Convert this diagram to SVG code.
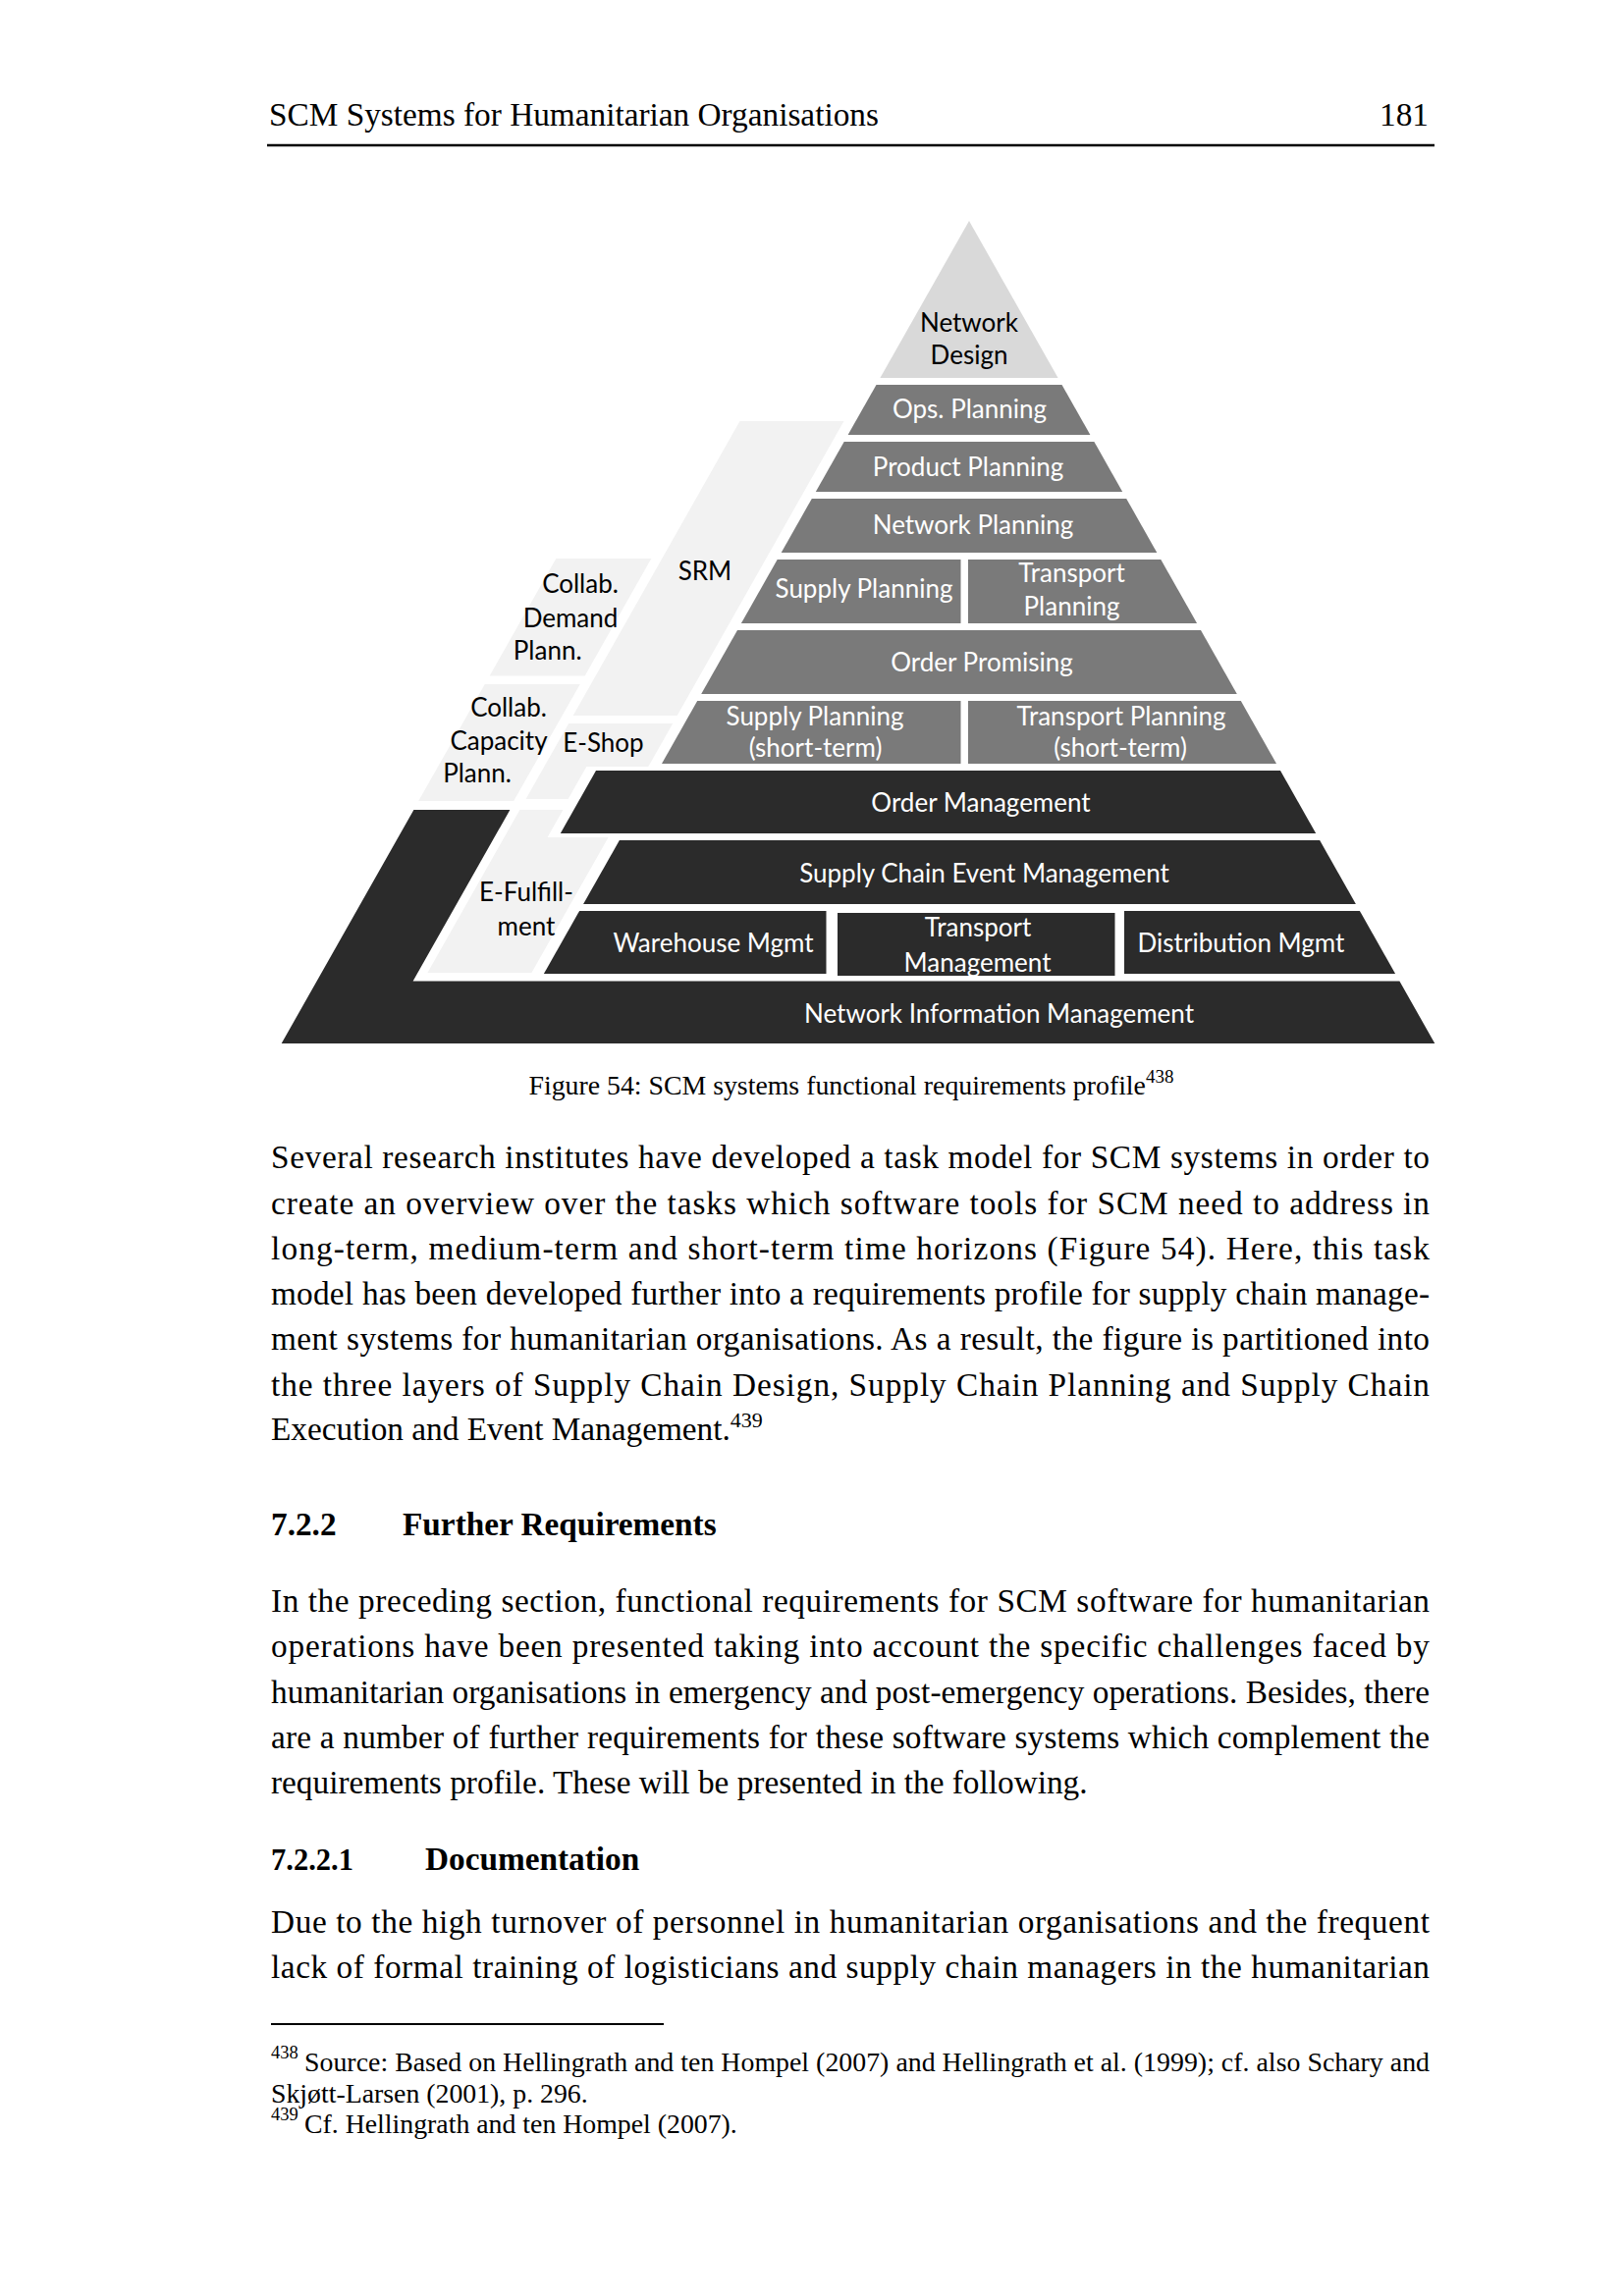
<svg xmlns="http://www.w3.org/2000/svg" width="1654" height="2339" viewBox="0 0 1654 2339">
<style>
.bg{fill:#ffffff}
.nd{fill:#d9d9d9}
.mid{fill:#7a7a7a}
.dark{fill:#2b2b2b}
.light{fill:#f2f2f2}
.lbl{font-family:Lato,"Open Sans",sans-serif;font-size:26px;text-anchor:middle}
.w{fill:#ffffff}
.k{fill:#000000}
.serif{font-family:"Liberation Serif","Times New Roman",serif;fill:#000}
.body{font-size:33.3px}
.fn{font-size:27.8px}
.cap{font-size:27.8px}
.bold{font-weight:bold}
.sup{font-size:19px}
</style>
<rect class="bg" x="0" y="0" width="1654" height="2339"/>

<g id="header">
<text class="serif body" x="274" y="128">SCM Systems for Humanitarian Organisations</text>
<text class="serif body" x="1455" y="128" text-anchor="end">181</text>
<line x1="272" y1="148" x2="1461" y2="148" stroke="#000" stroke-width="2.7"/>
</g>

<g id="pyramid">
<g id="network-design"><polygon class="nd" points="987,225 1077.6,385 896.4,385"/>
<text class="lbl k" x="987" y="338">Network</text><text class="lbl k" x="987" y="371">Design</text></g>
<g id="ops-planning"><polygon class="mid" points="892.5,392 1081.5,392 1110.4,443 863.6,443"/>
<text class="lbl w" x="987.5" y="426">Ops. Planning</text></g>
<g id="product-planning"><polygon class="mid" points="859.7,450 1114.4,450 1143.2,501 830.8,501"/>
<text class="lbl w" x="986" y="485">Product Planning</text></g>
<g id="network-planning"><polygon class="mid" points="826.8,508 1147.2,508 1178.3,563 795.7,563"/>
<text class="lbl w" x="991" y="543.5">Network Planning</text></g>
<g id="supply-planning"><polygon class="mid" points="791.7,570 978.5,570 978.5,635 754.9,635"/>
<text class="lbl w" x="880" y="609">Supply Planning</text></g>
<g id="transport-planning"><polygon class="mid" points="986,570 1182.3,570 1219.1,635 986,635"/>
<text class="lbl w" x="1091.5" y="593">Transport</text><text class="lbl w" x="1091.5" y="627">Planning</text></g>
<g id="order-promising"><polygon class="mid" points="751,642 1223,642 1259.8,707 714.2,707"/>
<text class="lbl w" x="1000" y="683.5">Order Promising</text></g>
<g id="supply-planning-st"><polygon class="mid" points="710.2,714 978.5,714 978.5,778 674,778"/>
<text class="lbl w" x="830" y="738.5">Supply Planning</text><text class="lbl w" x="830.5" y="771">(short-term)</text></g>
<g id="transport-planning-st"><polygon class="mid" points="986,714 1263.8,714 1300,778 986,778"/>
<text class="lbl w" x="1142" y="738.5">Transport Planning</text><text class="lbl w" x="1141" y="771">(short-term)</text></g>
<g id="order-management"><polygon class="dark" points="607,785 1304,785 1340.2,849 570.8,849"/>
<text class="lbl w" x="999" y="826.5">Order Management</text></g>
<g id="scem"><polygon class="dark" points="630.9,856 1344.1,856 1380.9,921 594.1,921"/>
<text class="lbl w" x="1002.5" y="898.5">Supply Chain Event Management</text></g>
<g id="warehouse-mgmt"><polygon class="dark" points="590.1,928 841.5,928 841.5,992 553.9,992"/>
<text class="lbl w" x="726.5" y="970">Warehouse Mgmt</text></g>
<g id="transport-management"><rect class="dark" x="853" y="930" width="282.5" height="64"/>
<text class="lbl w" x="996" y="954">Transport</text><text class="lbl w" x="995.5" y="989.5">Management</text></g>
<g id="distribution-mgmt"><polygon class="dark" points="1145,928 1384.9,928 1421.1,992 1145,992"/>
<text class="lbl w" x="1264" y="970">Distribution Mgmt</text></g>
<g id="network-information-management"><polygon class="dark" points="421.4,825 519.4,825 420.6,999.5 1425.4,999.5 1461.3,1063 286.7,1063"/>
<text class="lbl w" x="1017.5" y="1042">Network Information Management</text></g>
<g id="collab-demand"><polygon class="light" points="566.3,569 663.3,569 595.7,688.5 498.7,688.5"/>
<text class="lbl k" x="591" y="603.5">Collab.</text><text class="lbl k" x="581" y="638.5">Demand</text><text class="lbl k" x="557.7" y="672">Plann.</text></g>
<g id="collab-capacity"><polygon class="light" points="493.8,697 590.8,697 523.2,816 426.2,816"/>
<text class="lbl k" x="518" y="730">Collab.</text><text class="lbl k" x="508" y="764">Capacity</text><text class="lbl k" x="486" y="797">Plann.</text></g>
<g id="srm"><polygon class="light" points="753.5,429 859.5,429 689.7,729 583.7,729"/>
<text class="lbl k" x="718" y="590.5">SRM</text></g>
<g id="e-shop"><polygon class="light" points="579.2,737 685.2,737 660.3,781 597.3,781 578.6,814 535.6,814"/>
<text class="lbl k" x="614.5" y="766">E-Shop</text></g>
<g id="e-fulfillment"><polygon class="light" points="529.4,825 573.4,825 557.6,853 619.6,853 541.4,991 435.4,991"/>
<text class="lbl k" x="536" y="918">E-Fulfill-</text><text class="lbl k" x="536" y="952.5">ment</text></g>
</g>

<g id="caption">
<text class="serif cap" x="538.5" y="1115">Figure 54: SCM systems functional requirements profile<tspan class="sup" dy="-12">438</tspan></text>
</g>

<g id="paragraph1" class="serif body">
<text x="276" y="1190" textLength="1180" lengthAdjust="spacing">Several research institutes have developed a task model for SCM systems in order to</text>
<text x="276" y="1236.5" textLength="1180" lengthAdjust="spacing">create an overview over the tasks which software tools for SCM need to address in</text>
<text x="276" y="1282.5" textLength="1180" lengthAdjust="spacing">long-term, medium-term and short-term time horizons (Figure 54). Here, this task</text>
<text x="276" y="1328.5" textLength="1180" lengthAdjust="spacing">model has been developed further into a requirements profile for supply chain manage-</text>
<text x="276" y="1375" textLength="1180" lengthAdjust="spacing">ment systems for humanitarian organisations. As a result, the figure is partitioned into</text>
<text x="276" y="1421.5" textLength="1180" lengthAdjust="spacing">the three layers of Supply Chain Design, Supply Chain Planning and Supply Chain</text>
<text x="276" y="1467">Execution and Event Management.<tspan font-size="22" dy="-13">439</tspan></text>
</g>

<g id="heading1" class="serif body bold">
<text x="276" y="1563.5">7.2.2</text>
<text x="410" y="1563.5">Further Requirements</text>
</g>

<g id="paragraph2" class="serif body">
<text x="276" y="1641.5" textLength="1180" lengthAdjust="spacing">In the preceding section, functional requirements for SCM software for humanitarian</text>
<text x="276" y="1688" textLength="1180" lengthAdjust="spacing">operations have been presented taking into account the specific challenges faced by</text>
<text x="276" y="1734.5" textLength="1180" lengthAdjust="spacing">humanitarian organisations in emergency and post-emergency operations. Besides, there</text>
<text x="276" y="1780.5" textLength="1180" lengthAdjust="spacing">are a number of further requirements for these software systems which complement the</text>
<text x="276" y="1827">requirements profile. These will be presented in the following.</text>
</g>

<g id="heading2" class="serif bold">
<text x="276" y="1905" font-size="30.5">7.2.2.1</text>
<text x="433" y="1905" font-size="33.3">Documentation</text>
</g>

<g id="paragraph3" class="serif body">
<text x="276" y="1968.5" textLength="1180" lengthAdjust="spacing">Due to the high turnover of personnel in humanitarian organisations and the frequent</text>
<text x="276" y="2015" textLength="1180" lengthAdjust="spacing">lack of formal training of logisticians and supply chain managers in the humanitarian</text>
</g>

<g id="footnotes" class="serif fn">
<line x1="276" y1="2062" x2="676" y2="2062" stroke="#000" stroke-width="2"/>
<text x="276" y="2097" font-size="18.5">438</text>
<text x="310" y="2110" textLength="1146" lengthAdjust="spacing">Source: Based on Hellingrath and ten Hompel (2007) and Hellingrath et al. (1999); cf. also Schary and</text>
<text x="276" y="2141.5">Skjøtt-Larsen (2001), p. 296.</text>
<text x="276" y="2160" font-size="18.5">439</text>
<text x="310" y="2173">Cf. Hellingrath and ten Hompel (2007).</text>
</g>
</svg>
